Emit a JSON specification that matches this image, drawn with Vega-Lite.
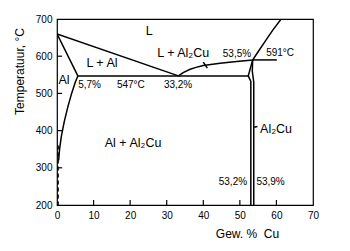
{
  "$schema": "https://vega.github.io/schema/vega-lite/v6.json",
  "width": 256,
  "height": 186,
  "autosize": {"type": "none"},
  "padding": {"left": 57, "top": 19, "right": 37, "bottom": 46},
  "background": "white",
  "config": {
    "font": "Liberation Sans",
    "view": {"stroke": "black", "strokeWidth": 1.2},
    "axis": {"grid": false, "domain": false, "ticks": false, "labelColor": "black", "titleColor": "black", "labelFont": "Liberation Sans", "titleFont": "Liberation Sans", "titleFontWeight": "normal"}
  },
  "datasets": {
    "lines": [
      {"id": "liqL", "o": 1, "x": 0, "T": 660},
      {"id": "liqL", "o": 2, "x": 33.2, "T": 547},
      {"id": "sol", "o": 1, "x": 0, "T": 660},
      {"id": "sol", "o": 2, "x": 5.7, "T": 547},
      {"id": "eut", "o": 1, "x": 5.7, "T": 547},
      {"id": "eut", "o": 2, "x": 52.3, "T": 547},
      {"id": "liqR", "o": 1, "x": 33.2, "T": 547},
      {"id": "liqR", "o": 2, "x": 34.5, "T": 556},
      {"id": "liqR", "o": 3, "x": 36.4, "T": 565},
      {"id": "liqR", "o": 4, "x": 38, "T": 570},
      {"id": "liqR", "o": 5, "x": 40, "T": 575},
      {"id": "liqR", "o": 6, "x": 44.6, "T": 581},
      {"id": "liqR", "o": 7, "x": 49.1, "T": 586},
      {"id": "liqR", "o": 8, "x": 53.5, "T": 590},
      {"id": "liqR", "o": 9, "x": 55, "T": 612},
      {"id": "liqR", "o": 10, "x": 57, "T": 641},
      {"id": "liqR", "o": 11, "x": 59, "T": 670},
      {"id": "liqR", "o": 12, "x": 61.3, "T": 700},
      {"id": "per", "o": 1, "x": 53.5, "T": 590},
      {"id": "per", "o": 2, "x": 60.1, "T": 590},
      {"id": "thL", "o": 1, "x": 53.5, "T": 590},
      {"id": "thL", "o": 2, "x": 52.3, "T": 547},
      {"id": "thL", "o": 3, "x": 53.0, "T": 532},
      {"id": "thL", "o": 4, "x": 53.0, "T": 200},
      {"id": "thR", "o": 1, "x": 53.5, "T": 590},
      {"id": "thR", "o": 2, "x": 53.4, "T": 560},
      {"id": "thR", "o": 3, "x": 53.8, "T": 530},
      {"id": "thR", "o": 4, "x": 53.8, "T": 200},
      {"id": "solv", "o": 1, "x": 5.7, "T": 547},
      {"id": "solv", "o": 2, "x": 5, "T": 530},
      {"id": "solv", "o": 3, "x": 4, "T": 500},
      {"id": "solv", "o": 4, "x": 3, "T": 465},
      {"id": "solv", "o": 5, "x": 2, "T": 425},
      {"id": "solv", "o": 6, "x": 1.2, "T": 385},
      {"id": "solv", "o": 7, "x": 0.7, "T": 350},
      {"id": "solv", "o": 8, "x": 0.45, "T": 320},
      {"id": "lead1", "o": 1, "x": 40.0, "T": 584},
      {"id": "lead1", "o": 2, "x": 41.1, "T": 568},
      {"id": "lead2", "o": 1, "x": 53.9, "T": 409},
      {"id": "lead2", "o": 2, "x": 54.8, "T": 411}
    ],
    "dashed": [
      {"id": "d", "o": 1, "x": 0.3, "T": 360},
      {"id": "d", "o": 2, "x": 0.3, "T": 200}
    ],
    "xticks": [
      {"x": 10, "T": 200, "T2": 213.5},
      {"x": 20, "T": 200, "T2": 213.5},
      {"x": 30, "T": 200, "T2": 213.5},
      {"x": 40, "T": 200, "T2": 213.5},
      {"x": 50, "T": 200, "T2": 213.5},
      {"x": 60, "T": 200, "T2": 213.5}
    ],
    "yticks": [
      {"x": 0, "x2": 1.4, "T": 300},
      {"x": 0, "x2": 1.4, "T": 400},
      {"x": 0, "x2": 1.4, "T": 500},
      {"x": 0, "x2": 1.4, "T": 600}
    ],
    "bigLabels": [
      {"t": "L", "x": 25.2, "T": 668},
      {"t": "L + Al", "x": 12.3, "T": 582},
      {"t": "L + Al₂Cu", "x": 34.5, "T": 609},
      {"t": "Al + Al₂Cu", "x": 20.8, "T": 367},
      {"t": "Al₂Cu", "x": 59.9, "T": 405},
      {"t": "Al", "x": 1.9, "T": 537}
    ],
    "smallLabels": [
      {"t": "5,7%", "x": 8.9, "T": 523},
      {"t": "547°C", "x": 20.2, "T": 523},
      {"t": "33,2%", "x": 33.1, "T": 523},
      {"t": "53,5%", "x": 49.2, "T": 606},
      {"t": "591°C", "x": 61, "T": 608},
      {"t": "53,2%", "x": 48.1, "T": 261},
      {"t": "53,9%", "x": 58.4, "T": 261}
    ]
  },
  "encoding": {
    "x": {"field": "x", "type": "quantitative", "scale": {"domain": [0, 70], "nice": false, "zero": false},
      "axis": {"values": [0, 10, 20, 30, 40, 50, 60, 70], "labelPadding": 5, "labelFontSize": 10, "labelFlush": false,
        "title": "Gew. %\u00a0 Cu", "titleFontSize": 12, "titleX": 190, "titleY": 32, "titleAlign": "center", "titleBaseline": "alphabetic"}},
    "y": {"field": "T", "type": "quantitative", "scale": {"domain": [200, 700], "nice": false, "zero": false},
      "axis": {"values": [200, 300, 400, 500, 600, 700], "labelPadding": 5, "labelFontSize": 10, "labelFlush": false,
        "title": "Temperatuur, °C", "titleFontSize": 12, "titleX": -34, "titleY": 52, "titleAngle": -90, "titleAlign": "center", "titleBaseline": "alphabetic"}}
  },
  "layer": [
    {
      "data": {"name": "lines"},
      "mark": {"type": "line", "color": "black", "strokeWidth": 1.5, "clip": true},
      "encoding": {"detail": {"field": "id"}, "order": {"field": "o", "type": "quantitative"}}
    },
    {
      "data": {"name": "dashed"},
      "mark": {"type": "line", "color": "black", "strokeWidth": 1.5, "strokeDash": [4, 3], "clip": true},
      "encoding": {"detail": {"field": "id"}, "order": {"field": "o", "type": "quantitative"}}
    },
    {
      "data": {"name": "xticks"},
      "mark": {"type": "rule", "color": "black", "strokeWidth": 1.2},
      "encoding": {"y2": {"field": "T2"}}
    },
    {
      "data": {"name": "yticks"},
      "mark": {"type": "rule", "color": "black", "strokeWidth": 1.2},
      "encoding": {"x2": {"field": "x2"}}
    },
    {
      "data": {"name": "bigLabels"},
      "mark": {"type": "text", "fontSize": 12.5, "color": "black", "baseline": "middle", "align": "center"},
      "encoding": {"text": {"field": "t"}}
    },
    {
      "data": {"name": "smallLabels"},
      "mark": {"type": "text", "fontSize": 10, "color": "black", "baseline": "middle", "align": "center"},
      "encoding": {"text": {"field": "t"}}
    }
  ]
}
